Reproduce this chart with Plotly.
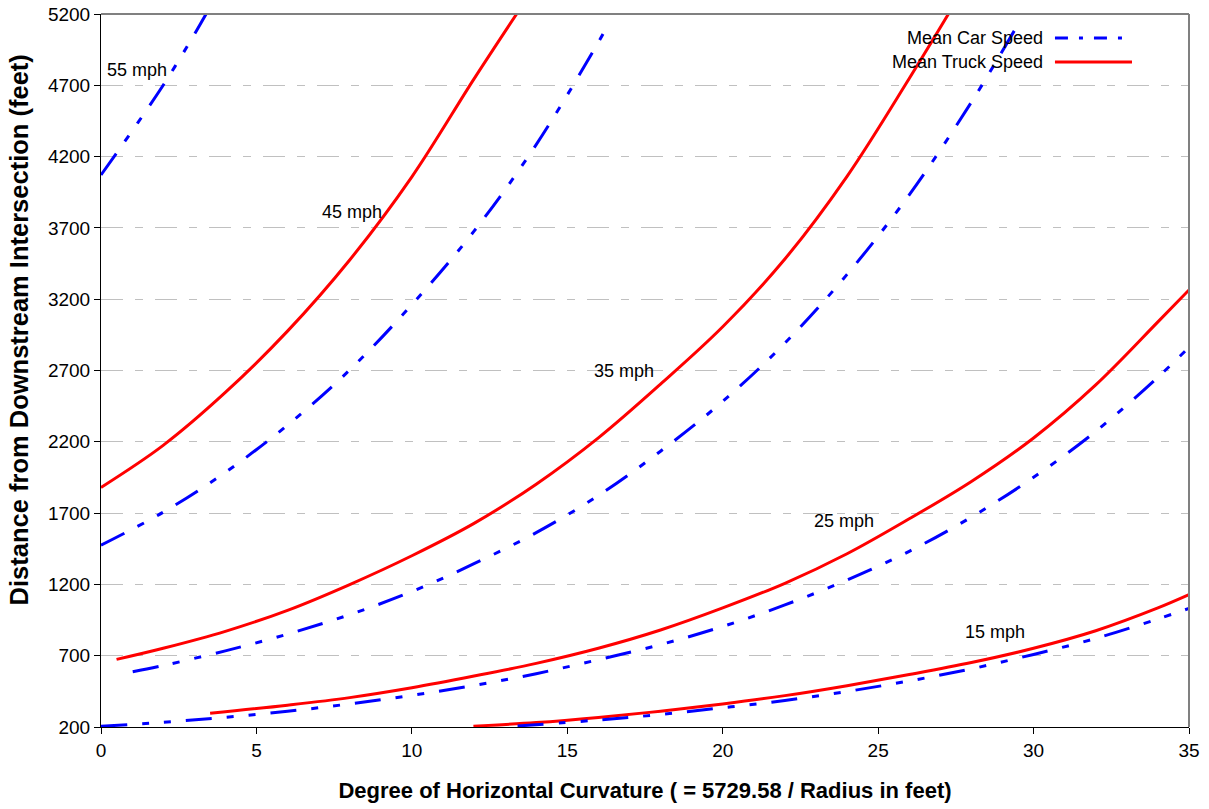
import plotly.graph_objects as go

# ---------------- data ----------------
car55_x = [0, 1, 2, 3, 3.38]
car55_y = [4071, 4380, 4700, 5056, 5200]

truck45_x = [0, 2, 4, 6, 8, 10, 12, 13.37]
truck45_y = [1880, 2175, 2546, 2976, 3475, 4058, 4745, 5200]
car45_x = [0, 2, 4, 6, 8, 10, 12, 14, 16, 16.31]
car45_y = [1475, 1706, 1986, 2317, 2704, 3162, 3677, 4284, 5002, 5125]

truck35_x = [0.5, 2, 4, 6, 8, 10, 12, 14, 16, 18, 20, 22, 24, 26, 27.26]
truck35_y = [674, 752, 871, 1018, 1199, 1401, 1628, 1903, 2228, 2605, 3007, 3482, 4062, 4748, 5200]
car35_x = [1.02, 2, 4, 6, 8, 10, 12, 14, 16, 18, 20, 22, 24, 26, 28, 29.52]
car35_y = [587, 631, 734, 851, 988, 1150, 1345, 1563, 1823, 2134, 2483, 2892, 3374, 3932, 4582, 5135]

truck25_x = [3.51, 6, 8, 10, 12, 14, 16, 18, 20, 22, 24, 26, 28, 30, 32, 34, 35]
truck25_y = [296, 353, 406, 475, 557, 646, 752, 880, 1035, 1208, 1415, 1660, 1922, 2227, 2599, 3041, 3265]
car25_x = [0, 2, 4, 6, 8, 10, 12, 14, 16, 18, 20, 22, 24, 26, 28, 30, 32, 34, 35]
car25_y = [205, 233, 268, 310, 362, 422, 491, 574, 672, 778, 905, 1056, 1231, 1432, 1672, 1951, 2273, 2653, 2863]

truck15_x = [11.98, 14, 16, 18, 20, 22, 24, 26, 28, 30, 32, 34, 35]
truck15_y = [206, 231, 267, 311, 362, 420, 490, 568, 652, 752, 875, 1035, 1128]
car15_x = [13.4, 16, 18, 20, 22, 24, 26, 28, 30, 32, 34, 35]
car15_y = [207, 249, 288, 335, 386, 449, 523, 608, 709, 821, 958, 1032]

speed_labels = ["55 mph", "45 mph", "35 mph", "25 mph", "15 mph"]
label_x = [1.15, 8.09, 16.83, 23.9, 28.76]
label_y = [4807, 3811, 2696, 1645, 866]

x_ticks = [0, 5, 10, 15, 20, 25, 30, 35]
y_ticks = [200, 700, 1200, 1700, 2200, 2700, 3200, 3700, 4200, 4700, 5200]

legend_names = ["Mean Car Speed", "Mean Truck Speed"]
x_title = "Degree of Horizontal Curvature ( = 5729.58 / Radius in feet)"
y_title = "Distance from Downstream Intersection (feet)"

# ---------------- styles ----------------
CAR_COLOR = "#0000FF"
TRUCK_COLOR = "#FF0000"
CAR_DASH = "26px,15px,7px,15px,7px,15px"
FONT = "Liberation Sans, Arial, sans-serif"

fig = go.Figure()

car_series = [(car55_x, car55_y), (car45_x, car45_y), (car35_x, car35_y),
              (car25_x, car25_y), (car15_x, car15_y)]
truck_series = [(truck45_x, truck45_y), (truck35_x, truck35_y),
                (truck25_x, truck25_y), (truck15_x, truck15_y)]

for xs, ys in truck_series:
    fig.add_trace(go.Scatter(x=xs, y=ys, mode="lines", showlegend=False,
                             line=dict(color=TRUCK_COLOR, width=3, shape="spline", smoothing=1.0),
                             hoverinfo="skip"))
for xs, ys in car_series:
    fig.add_trace(go.Scatter(x=xs, y=ys, mode="lines", showlegend=False,
                             line=dict(color=CAR_COLOR, width=3, dash=CAR_DASH,
                                       shape="spline", smoothing=1.0),
                             hoverinfo="skip"))

annotations = []
for t, x, y in zip(speed_labels, label_x, label_y):
    annotations.append(dict(x=x, y=y, xref="x", yref="y", text=t, showarrow=False,
                            font=dict(family=FONT, size=18, color="#000000"),
                            xanchor="center", yanchor="middle"))

# custom legend (text left of the line sample, as in the reference)
leg_text_x = 0.8676
leg_y = [0.9663, 0.9327]
for name, y in zip(legend_names, leg_y):
    annotations.append(dict(x=leg_text_x, y=y, xref="paper", yref="paper", text=name,
                            showarrow=False, xanchor="right", yanchor="middle",
                            font=dict(family=FONT, size=18, color="#000000")))

# y axis title (placed like the reference, slightly above centre)
annotations.append(dict(x=-0.0758, y=0.557, xref="paper", yref="paper",
                        text="<b>" + y_title + "</b>", showarrow=False, textangle=-90,
                        xanchor="center", yanchor="middle",
                        font=dict(family=FONT, size=25.5, color="#000000")))

shapes = [
    dict(type="line", xref="paper", yref="paper", x0=0.8768, x1=0.9412, y0=leg_y[0], y1=leg_y[0],
         line=dict(color=CAR_COLOR, width=3, dash="13px,11px,4px,11px")),
    dict(type="line", xref="paper", yref="paper", x0=0.8768, x1=0.9476, y0=leg_y[1], y1=leg_y[1],
         line=dict(color=TRUCK_COLOR, width=3)),
    # top and right frame of the plot area
    dict(type="line", xref="paper", yref="paper", x0=0, x1=1, y0=1, y1=1,
         line=dict(color="#808080", width=2)),
    dict(type="line", xref="paper", yref="paper", x0=1, x1=1, y0=0, y1=1,
         line=dict(color="#808080", width=2)),
]

fig.update_layout(
    width=1209, height=809,
    margin=dict(l=101, r=20, t=14, b=82, autoexpand=False),
    paper_bgcolor="white", plot_bgcolor="white",
    font=dict(family=FONT, color="#000000"),
    annotations=annotations,
    shapes=shapes,
    showlegend=False,
)

fig.update_xaxes(
    range=[0, 35], tickvals=x_ticks, ticktext=[str(v) for v in x_ticks],
    showgrid=False, zeroline=False, automargin=False,
    showline=True, linecolor="#000000", linewidth=1,
    ticks="outside", ticklen=6, tickcolor="#000000",
    tickfont=dict(family=FONT, size=19),
    title=dict(text="<b>" + x_title + "</b>",
               font=dict(family=FONT, size=22), standoff=22),
)
fig.update_yaxes(
    range=[200, 5200], tickvals=y_ticks, ticktext=[str(v) for v in y_ticks],
    showgrid=True, gridcolor="#c0c0c0", gridwidth=1, griddash="22px,12px,8px,12px",
    zeroline=False, automargin=False,
    showline=True, linecolor="#000000", linewidth=1,
    ticks="outside", ticklen=6, tickcolor="#000000",
    tickfont=dict(family=FONT, size=19),
)

fig.write_html("out.html")
